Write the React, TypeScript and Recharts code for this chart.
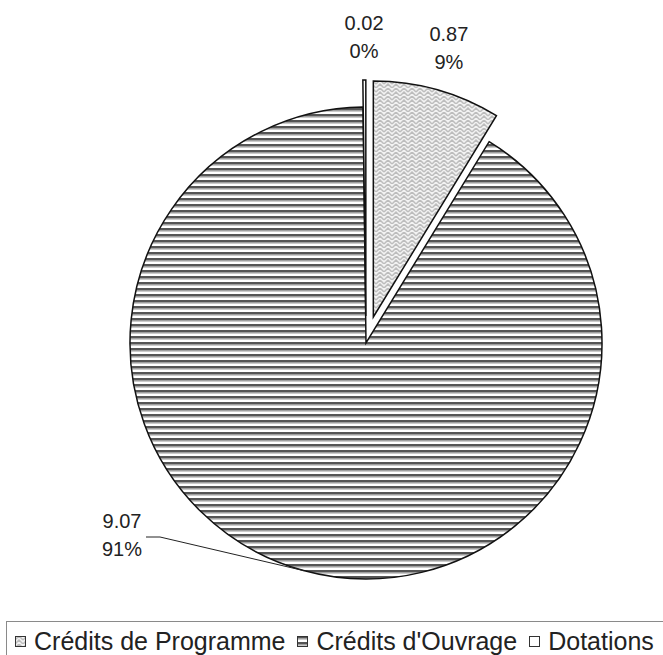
import React from 'react'
import { PieChart, Pie, Cell, Legend } from 'recharts'

// values
const categories = ['Crédits de Programme', "Crédits d'Ouvrage", 'Dotations']
const values = [0.87, 9.07, 0.02]
const exploded = [true, false, true]

const data = categories.map((name, i) => ({ name, value: values[i] }))
const total = values.reduce((a, b) => a + b, 0)

const RADIAN = Math.PI / 180
const CX = 366
const CY = 343
const R = 236
const EXPLODE = 27
const FONT = '"Liberation Sans", Arial, sans-serif'
const FILLS = ['url(#weave)', 'url(#stripes)', '#ffffff']

// mid angle of a slice (degrees, recharts convention), pie runs clockwise from 12 o'clock
const sliceMid = (i: number) => {
  let cum = 0
  for (let j = 0; j < i; j++) cum += values[j]
  return 90 - (360 * (cum + values[i] / 2)) / total
}

const centerFor = (i: number) => {
  if (!exploded[i]) return { cx: CX, cy: CY }
  const a = sliceMid(i) * RADIAN
  return { cx: CX + EXPLODE * Math.cos(a), cy: CY - EXPLODE * Math.sin(a) }
}

const textStyle = { fontFamily: FONT, fontSize: 20, fill: '#222' }

const renderLabel = (only: number) => (props: any) => {
  const { index, cx, cy, outerRadius, midAngle, value, percent } = props
  if (index !== only) return null
  const pct = `${Math.round(percent * 100)}%`
  const cos = Math.cos(-midAngle * RADIAN)
  const sin = Math.sin(-midAngle * RADIAN)
  if (index === 1) {
    // label was dragged away from the slice in the original, with a leader line
    const ex = cx + outerRadius * cos
    const ey = cy + outerRadius * sin
    return (
      <g>
        <polyline points={`146,537 160,537 ${ex},${ey}`} fill="none" stroke="#222" strokeWidth={1} />
        <text x={122} y={521} textAnchor="middle" dominantBaseline="central" {...textStyle}>{value.toFixed(2)}</text>
        <text x={122} y={549} textAnchor="middle" dominantBaseline="central" {...textStyle}>{pct}</text>
      </g>
    )
  }
  const lr = outerRadius + 43
  const x = cx + lr * cos
  const y = cy + lr * sin
  return (
    <g>
      <text x={x} y={y - 14} textAnchor="middle" dominantBaseline="central" {...textStyle}>{value.toFixed(2)}</text>
      <text x={x} y={y + 14} textAnchor="middle" dominantBaseline="central" {...textStyle}>{pct}</text>
    </g>
  )
}

const renderLegend = () => (
  <div
    style={{
      borderTop: '1px solid #8a8a8a',
      borderLeft: '1px solid #8a8a8a',
      width: 657,
      height: 34,
      boxSizing: 'border-box',
      display: 'flex',
      alignItems: 'center',
      paddingLeft: 8,
      paddingTop: 6,
      fontFamily: FONT,
      fontSize: 25,
      color: '#222',
      whiteSpace: 'nowrap',
    }}
  >
    {categories.map((c, i) => (
      <span key={c} style={{ display: 'flex', alignItems: 'center', marginRight: 12 }}>
        <svg width={11} height={11} style={{ display: 'block' }}>
          <rect x={0.5} y={0.5} width={10} height={10} fill={FILLS[i]} stroke="#333" strokeWidth={1} />
        </svg>
        <span style={{ marginLeft: 8 }}>{c}</span>
      </span>
    ))}
  </div>
)

export default function App() {
  return (
    <div style={{ position: 'absolute', left: 0, top: 0, background: '#fff' }}>
      <PieChart width={663} height={655} margin={{ top: 0, right: 0, bottom: 0, left: 0 }}>
        <defs>
          <pattern id="stripes" patternUnits="userSpaceOnUse" width={6} height={6}>
            <rect width={6} height={6} fill="#ffffff" />
            <rect y={0} width={6} height={2.6} fill="#555555" />
            <rect y={2.6} width={6} height={1} fill="#aaaaaa" />
          </pattern>
          <pattern id="weave" patternUnits="userSpaceOnUse" width={8} height={8}>
            <rect width={8} height={8} fill="#f2f2f2" />
            <path d="M0 4 L4 0 L8 4 M0 8 L4 4 L8 8" fill="none" stroke="#bdbdbd" strokeWidth={1.5} />
          </pattern>
        </defs>
        {categories.map((c, k) => {
          const { cx, cy } = centerFor(k)
          return (
            <Pie
              key={c}
              data={data}
              dataKey="value"
              nameKey="name"
              cx={cx}
              cy={cy}
              outerRadius={R}
              startAngle={90}
              endAngle={-270}
              stroke="#111"
              strokeWidth={1.5}
              label={renderLabel(k)}
              labelLine={false}
              isAnimationActive={false}
            >
              {data.map((d, i) => (
                <Cell
                  key={d.name}
                  fill={i === k ? FILLS[i] : 'none'}
                  stroke={i === k ? '#111' : 'none'}
                />
              ))}
            </Pie>
          )
        })}
        <Legend
          verticalAlign="bottom"
          content={renderLegend}
          wrapperStyle={{ position: 'absolute', left: 6, top: 621, width: 657, bottom: 'auto' }}
        />
      </PieChart>
    </div>
  )
}
